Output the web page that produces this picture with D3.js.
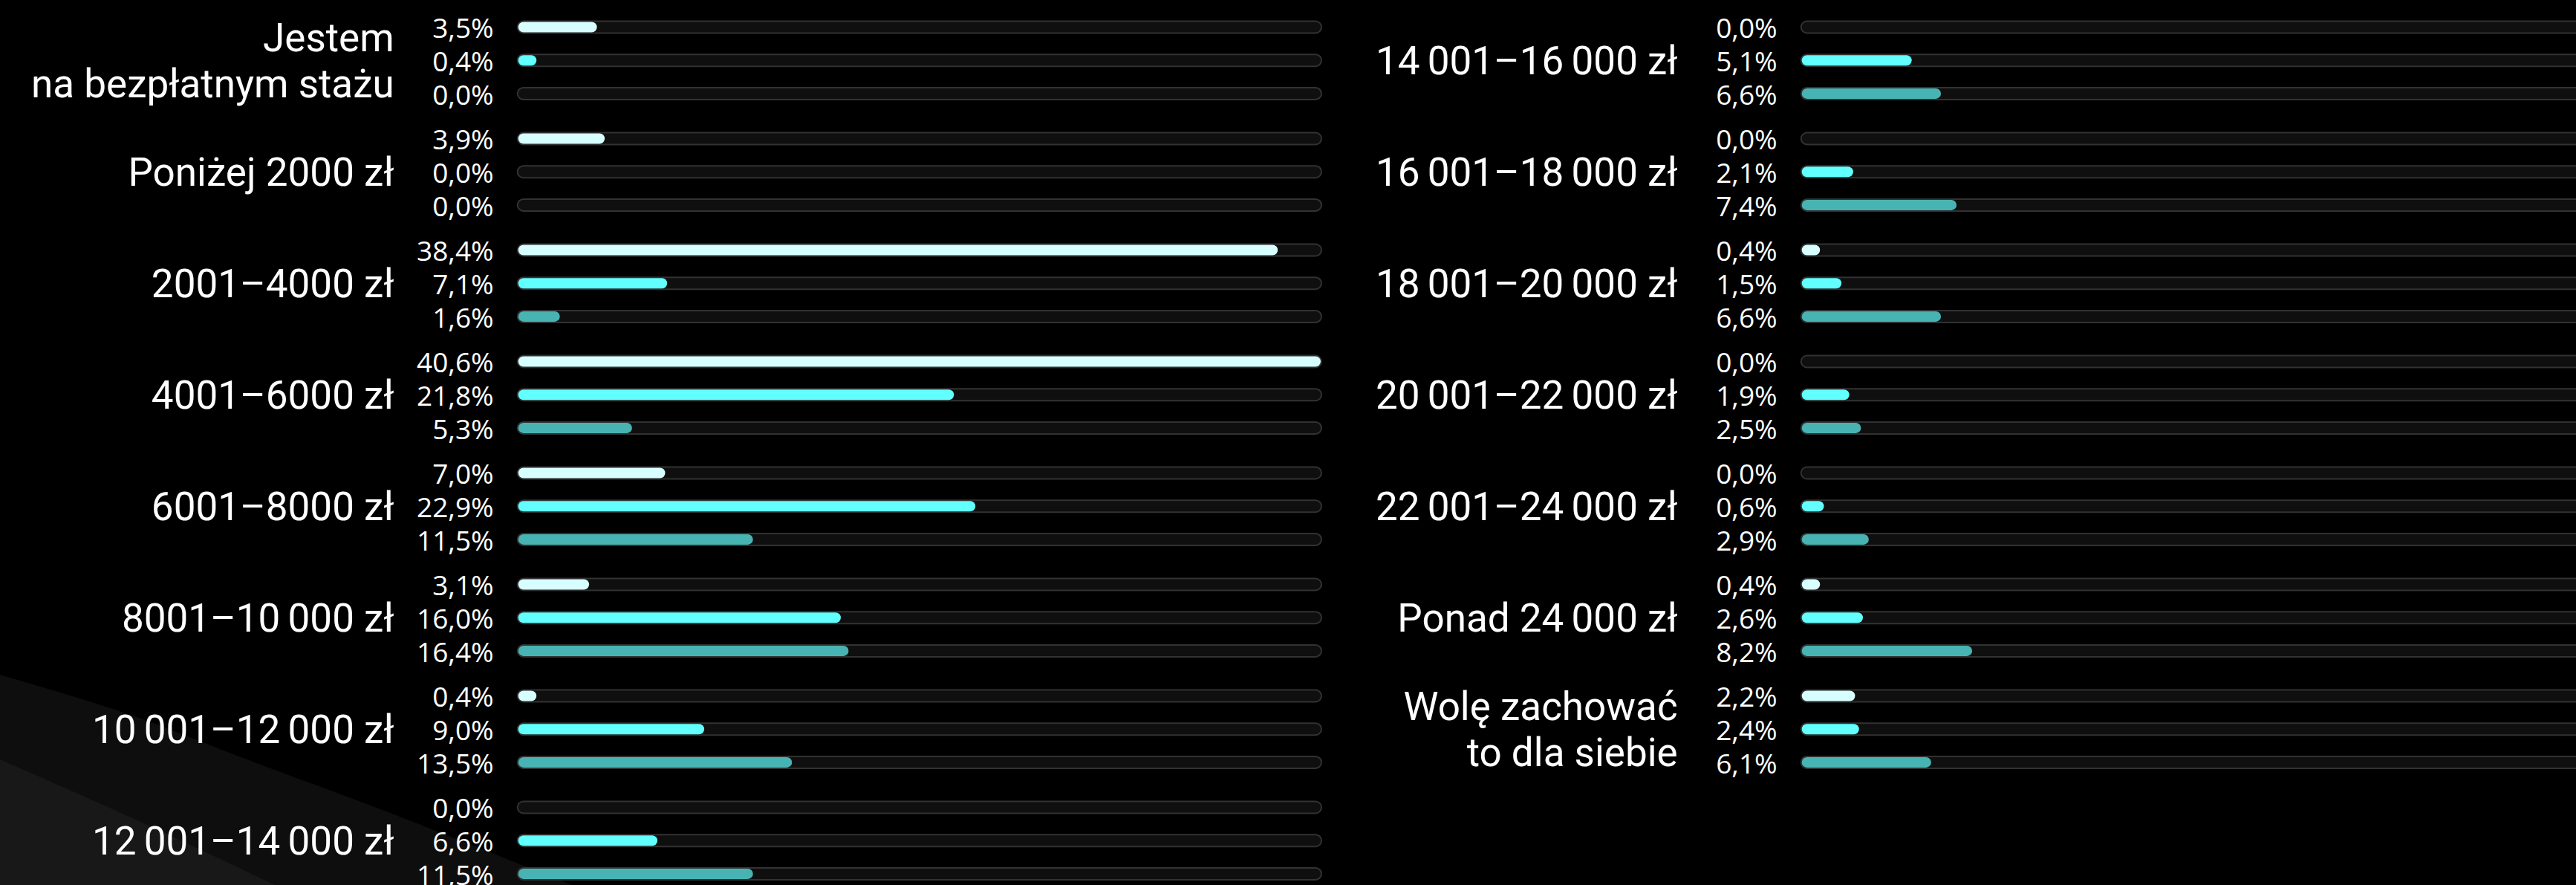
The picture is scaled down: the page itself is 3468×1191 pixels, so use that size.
<!DOCTYPE html>
<html>
<head>
<meta charset="utf-8">
<script src="https://cdn.jsdelivr.net/npm/d3@7"></script>
<style>
  html, body { margin: 0; padding: 0; background: #000; overflow: hidden; }
  svg { display: block; }
  text { fill: #fff; white-space: pre; }
  .cat { font-family: Roboto, "Noto Sans", sans-serif; }
  .val { font-family: "Open Sans", Roboto, sans-serif; }
</style>
</head>
<body>
<svg id="chart" width="3468" height="1191"></svg>
<script>
// Salary brackets (net monthly), one group of three bars each
const categories = [
  "Jestem\nna bezpłatnym stażu",
  "Poniżej 2000 zł",
  "2001–4000 zł",
  "4001–6000 zł",
  "6001–8000 zł",
  "8001–10 000 zł",
  "10 001–12 000 zł",
  "12 001–14 000 zł",
  "14 001–16 000 zł",
  "16 001–18 000 zł",
  "18 001–20 000 zł",
  "20 001–22 000 zł",
  "22 001–24 000 zł",
  "Ponad 24 000 zł",
  "Wolę zachować\nto dla siebie"
];

// Share of respondents (%) per bracket, three groups
const seriesFirst  = [3.5, 3.9, 38.4, 40.6, 7.0, 3.1, 0.4, 0.0, 0.0, 0.0, 0.4, 0.0, 0.0, 0.4, 2.2];
const seriesSecond = [0.4, 0.0, 7.1, 21.8, 22.9, 16.0, 9.0, 6.6, 5.1, 2.1, 1.5, 1.9, 0.6, 2.6, 2.4];
const seriesThird  = [0.0, 0.0, 1.6, 5.3, 11.5, 16.4, 13.5, 11.5, 6.6, 7.4, 6.6, 2.5, 2.9, 8.2, 6.1];

const seriesKeys = ["first", "second", "third"];
const seriesValues = { first: seriesFirst, second: seriesSecond, third: seriesThird };
const seriesColors = { first: "#d8ffff", second: "#62ffff", third: "#48b3b3" };

// ---- layout ----
const W = 3468, H = 1191;
const groupsPerColumn = 8;
const trackLeft = 695.7;        // outer left edge of the first column's tracks
const columnStep = 1728;        // horizontal distance between the two columns
const trackOuterW = 1084.3;
const trackOuterH = 18;
const trackStroke = 2;
const barH = 14;
const innerW = trackOuterW - 2 * trackStroke;

const svg = d3.select("#chart");

// Soft grey swooshes in the lower-left corner
const bgLine = d3.line().curve(d3.curveCatmullRom.alpha(0.5));
const darkBand = [[0, 908], [170, 960], [340, 1025], [520, 1092], [770, 1191]];
const lightBand = [[0, 1022], [185, 1104], [370, 1191]];
svg.append("path")
  .attr("d", bgLine(darkBand) + `L0,${H}Z`)
  .attr("fill", "#0e0e0e");
svg.append("path")
  .attr("d", bgLine(lightBand) + `L0,${H}Z`)
  .attr("fill", "#181818");

// ---- scales ----
const allValues = seriesKeys.flatMap(k => seriesValues[k]);
const x = d3.scaleLinear()
  .domain([0, d3.max(allValues)])
  .range([barH, innerW]);

const yGroup = d3.scaleLinear().domain([0, 1]).range([36.5, 186.5]);
const yRow = d3.scalePoint().domain(seriesKeys).range([0, 89.4]);

const pl = d3.formatLocale({ decimal: ",", thousands: "\u00a0", grouping: [3], currency: ["", " zł"] });
const fmt = v => pl.format(".1f")(v) + "%";

const groups = svg.append("g").selectAll("g.group")
  .data(categories.map((c, i) => ({ label: c, i })))
  .join("g")
  .attr("class", "group")
  .attr("transform", d => {
    const col = Math.floor(d.i / groupsPerColumn);
    const gi = d.i % groupsPerColumn;
    return `translate(${trackLeft + col * columnStep},${yGroup(gi)})`;
  });

// Category label, right-aligned, centred on the middle bar.
// Thousands separators inside amounts are set a little narrower than word spaces.
groups.each(function (d) {
  const lines = d.label.split("\n");
  const mid = yRow("second");
  const lineH = 61.6;
  const t = d3.select(this).append("text")
    .attr("class", "cat")
    .attr("text-anchor", "end")
    .attr("font-size", 53);
  lines.forEach((ln, j) => {
    const line = t.append("tspan")
      .attr("x", -165)
      .attr("y", mid + 19 + (j - (lines.length - 1) / 2) * lineH);
    const parts = ln.split(/(?<=\d) (?=\d{3})/);
    parts.forEach((p, k) => {
      line.append("tspan").text(p);
      if (k < parts.length - 1) {
        line.append("tspan").style("word-spacing", "-3px").text(" ");
      }
    });
  });
});

// Rows: track, value bar and value label
const rows = groups.selectAll("g.row")
  .data(d => seriesKeys.map(k => ({ key: k, value: seriesValues[k][d.i] })))
  .join("g")
  .attr("class", "row")
  .attr("transform", d => `translate(0,${yRow(d.key)})`);

rows.append("rect")
  .attr("x", trackStroke / 2)
  .attr("y", -trackOuterH / 2 + trackStroke / 2)
  .attr("width", trackOuterW - trackStroke)
  .attr("height", trackOuterH - trackStroke)
  .attr("rx", (trackOuterH - trackStroke) / 2)
  .attr("fill", "#0f0f0f")
  .attr("stroke", "#323232")
  .attr("stroke-width", trackStroke);

rows.filter(d => d.value > 0).append("rect")
  .attr("x", trackStroke)
  .attr("y", -barH / 2)
  .attr("width", d => x(d.value))
  .attr("height", barH)
  .attr("rx", barH / 2)
  .attr("fill", d => seriesColors[d.key]);

rows.append("text")
  .attr("class", "val")
  .attr("x", -31)
  .attr("y", 14.6)
  .attr("text-anchor", "end")
  .attr("font-size", 37)
  .text(d => fmt(d.value));
</script>
</body>
</html>
